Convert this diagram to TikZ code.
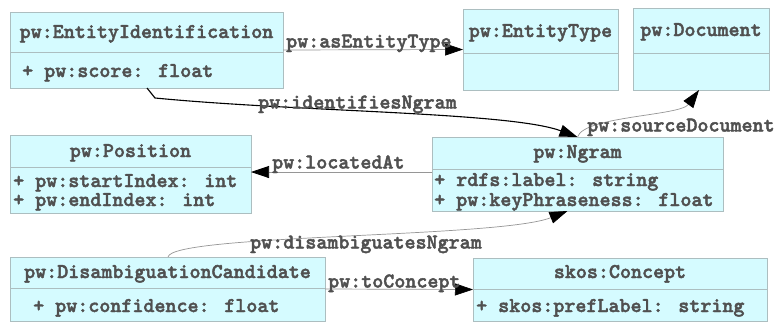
\documentclass[tikz,border=0pt]{standalone}
\usepackage{fontspec}
\newfontfamily\courb[FakeBold=2]{lmmonolt10-bold.otf}
\usetikzlibrary{arrows.meta}
\definecolor{boxfill}{RGB}{213,251,255}
\definecolor{boxline}{RGB}{172,190,192}
\definecolor{txt}{RGB}{80,80,80}
\definecolor{conn}{RGB}{150,150,150}
\tikzset{
  cls/.style={draw=boxline, fill=boxfill, line width=0.8pt, inner sep=0pt, outer sep=0pt},
  txtf/.style={font={\courb\fontsize{21pt}{22pt}\selectfont}, text=txt, inner sep=0pt},
  hdr/.style={txtf, anchor=base},
  att/.style={txtf, anchor=base west},
  lbl/.style={txtf, anchor=base west},
  divl/.style={draw=boxline, line width=0.8pt},
  tip/.style={-{Triangle[length=18pt,width=12pt,color=black]}},
  gline/.style={draw=conn, line width=0.7pt, tip},
  bline/.style={draw=black, line width=1.1pt, tip},
}
\begin{document}
\begin{tikzpicture}[x=1pt,y=-1pt]
\fill[white] (0,0) rectangle (783,322);
\useasboundingbox (0,0) rectangle (783,322);

% class boxes
\node[cls, minimum width=273pt, minimum height=76pt] (ei) at (146.5,50) {};
\node[cls, minimum width=155pt, minimum height=81pt] (et) at (540.5,49.5) {};
\node[cls, minimum width=136pt, minimum height=82pt] (doc) at (701,49) {};
\node[cls, minimum width=241pt, minimum height=78pt] (pos) at (130.5,174) {};
\node[cls, minimum width=291pt, minimum height=74pt] (ng) at (577.5,174) {};
\node[cls, minimum width=315pt, minimum height=64pt] (dc) at (167.5,289) {};
\node[cls, minimum width=294pt, minimum height=63pt] (con) at (620,289.5) {};

% dividers
\draw[divl] (ei.west |- 0,52) -- (ei.east |- 0,52);
\draw[divl] (et.west |- 0,53) -- (et.east |- 0,53);
\draw[divl] (doc.west |- 0,53) -- (doc.east |- 0,53);
\draw[divl] (pos.west |- 0,167) -- (pos.east |- 0,167);
\draw[divl] (ng.west |- 0,169) -- (ng.east |- 0,169);
\draw[divl] (dc.west |- 0,288) -- (dc.east |- 0,288);
\draw[divl] (con.west |- 0,289) -- (con.east |- 0,289);

% headers
\node[hdr] (eih) at (146.5,38) {pw:EntityIdentification};
\node[hdr] (eth) at (540.5,37) {pw:EntityType};
\node[hdr] (doch) at (701,36) {pw:Document};
\node[hdr] (posh) at (130.5,157) {pw:Position};
\node[hdr] (ngh) at (577.5,158) {pw:Ngram};
\node[hdr] (dch) at (167.5,278) {pw:DisambiguationCandidate};
\node[hdr] (conh) at (620,278) {skos:Concept};

% attributes
\node[att] (eia) at (22,77) {+ pw:score: float};
\node[att] (posa) at (13,187) {+ pw:startIndex: int};
\node[att] (posb) at (13,206) {+ pw:endIndex: int};
\node[att] (nga) at (434,186) {+ rdfs:label: string};
\node[att] (ngb) at (434,206) {+ pw:keyPhraseness: float};
\node[att] (dca) at (33,312) {+ pw:confidence: float};
\node[att] (cona) at (476,312) {+ skos:prefLabel: string};

% connectors
\draw[gline] (ei.east) -- (et.west);
\draw[bline] ([xshift=137pt]ei.south west) -- ++(8,10)
   .. controls (300,112) and (510,112) .. (ng.north);
\draw[gline] (ng.north) .. controls (584,116) and (680,116) .. ([xshift=-2pt]doc.south);
\draw[gline] (ng.west |- 0,172) -- (pos.east |- 0,172);
\draw[gline] ([xshift=158pt]dc.north west) .. controls (172,234) and (500,238) .. ([xshift=-10pt]ng.south);
\draw[gline] (dc.east) -- (con.west);

% connector labels
\node[lbl] (l1) at (286,47.5) {pw:asEntityType};
\node[lbl] (l2) at (258,108.5) {pw:identifiesNgram};
\node[lbl] (l3) at (587,131.5) {pw:sourceDocument};
\node[lbl] (l4) at (272,168.5) {pw:locatedAt};
\node[lbl] (l5) at (250,248.5) {pw:disambiguatesNgram};
\node[lbl] (l6) at (328,287.5) {pw:toConcept};
\end{tikzpicture}
\end{document}
